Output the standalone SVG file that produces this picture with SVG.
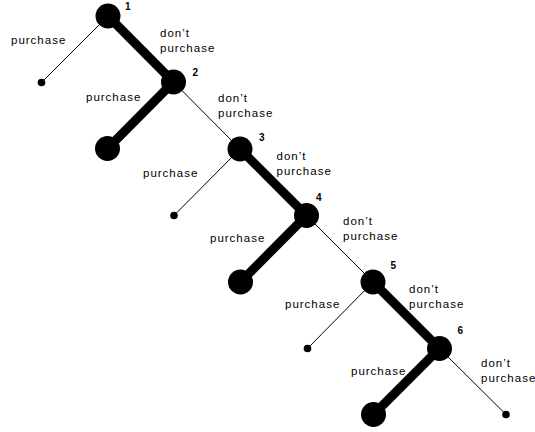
<svg xmlns="http://www.w3.org/2000/svg" width="535" height="432" viewBox="0 0 535 432">
  <style>
    .bg { fill: #ffffff; }
    .thin { stroke: #000; stroke-width: 1; fill: none; }
    .thick { stroke: #000; stroke-width: 9; fill: none; stroke-linecap: butt; }
    .big { fill: #000; }
    .dot { fill: #000; }
    .lbl { font-family: "Liberation Sans", Arial, sans-serif; font-size: 11.5px; letter-spacing: 1px; fill: #000; }
    .num { font-family: "Liberation Sans", Arial, sans-serif; font-size: 10px; font-weight: bold; fill: #000; }
  </style>
  <rect class="bg" x="0" y="0" width="535" height="432"/>

  <!-- branches: thick = chosen action, thin = other action -->
  <g id="connectors">
    <line class="thin" x1="108" y1="16" x2="41.5" y2="82.5"/>
    <line class="thick" x1="108" y1="16" x2="173.5" y2="82"/>
    <line class="thick" x1="173.5" y1="82" x2="107.5" y2="148.5"/>
    <line class="thin" x1="173.5" y1="82" x2="240" y2="149"/>
    <line class="thin" x1="240" y1="149" x2="174" y2="215.5"/>
    <line class="thick" x1="240" y1="149" x2="306.5" y2="215.5"/>
    <line class="thick" x1="306.5" y1="215.5" x2="240.5" y2="282"/>
    <line class="thin" x1="306.5" y1="215.5" x2="373" y2="282"/>
    <line class="thin" x1="373" y1="282" x2="307.5" y2="348.5"/>
    <line class="thick" x1="373" y1="282" x2="439.5" y2="348.5"/>
    <line class="thick" x1="439.5" y1="348.5" x2="373.5" y2="414.5"/>
    <line class="thin" x1="439.5" y1="348.5" x2="506" y2="414.5"/>
  </g>

  <!-- branch labels -->
  <g id="labels">
    <text class="lbl" x="11" y="44">purchase</text>
    <text class="lbl" x="160" y="37">don’t</text>
    <text class="lbl" x="160" y="51.5">purchase</text>

    <text class="lbl" x="86" y="100.5">purchase</text>
    <text class="lbl" x="218" y="102">don’t</text>
    <text class="lbl" x="218" y="116.5">purchase</text>

    <text class="lbl" x="143" y="176.5">purchase</text>
    <text class="lbl" x="276.5" y="159.5">don’t</text>
    <text class="lbl" x="276.5" y="174.5">purchase</text>

    <text class="lbl" x="210" y="241.5">purchase</text>
    <text class="lbl" x="343" y="224.5">don’t</text>
    <text class="lbl" x="343" y="239.5">purchase</text>

    <text class="lbl" x="285" y="308">purchase</text>
    <text class="lbl" x="409" y="292.5">don’t</text>
    <text class="lbl" x="409" y="307.5">purchase</text>

    <text class="lbl" x="351" y="375">purchase</text>
    <text class="lbl" x="481" y="366.5">don’t</text>
    <text class="lbl" x="481" y="381.5">purchase</text>
  </g>

  <!-- decision nodes -->
  <g id="node-1"><circle class="big" cx="108" cy="16" r="12.5"/><text class="num" x="125" y="10">1</text></g>
  <g id="node-2"><circle class="big" cx="173.5" cy="82" r="12.5"/><text class="num" x="192.5" y="76">2</text></g>
  <g id="node-3"><circle class="big" cx="240" cy="149" r="12.5"/><text class="num" x="259" y="141">3</text></g>
  <g id="node-4"><circle class="big" cx="306.5" cy="215.5" r="12.5"/><text class="num" x="316" y="200.5">4</text></g>
  <g id="node-5"><circle class="big" cx="373" cy="282" r="12.5"/><text class="num" x="390.5" y="268.5">5</text></g>
  <g id="node-6"><circle class="big" cx="439.5" cy="348.5" r="12.5"/><text class="num" x="457.5" y="333.5">6</text></g>

  <!-- terminal outcomes -->
  <g id="end-1"><circle class="dot" cx="41.5" cy="82.5" r="3.8"/></g>
  <g id="end-2"><circle class="big" cx="107.5" cy="148.5" r="12.5"/></g>
  <g id="end-3"><circle class="dot" cx="174" cy="215.5" r="3.8"/></g>
  <g id="end-4"><circle class="big" cx="240.5" cy="282" r="12.5"/></g>
  <g id="end-5"><circle class="dot" cx="307.5" cy="348.5" r="3.8"/></g>
  <g id="end-6"><circle class="big" cx="373.5" cy="414.5" r="12.5"/></g>
  <g id="end-7"><circle class="dot" cx="506" cy="414.5" r="3.8"/></g>
</svg>
